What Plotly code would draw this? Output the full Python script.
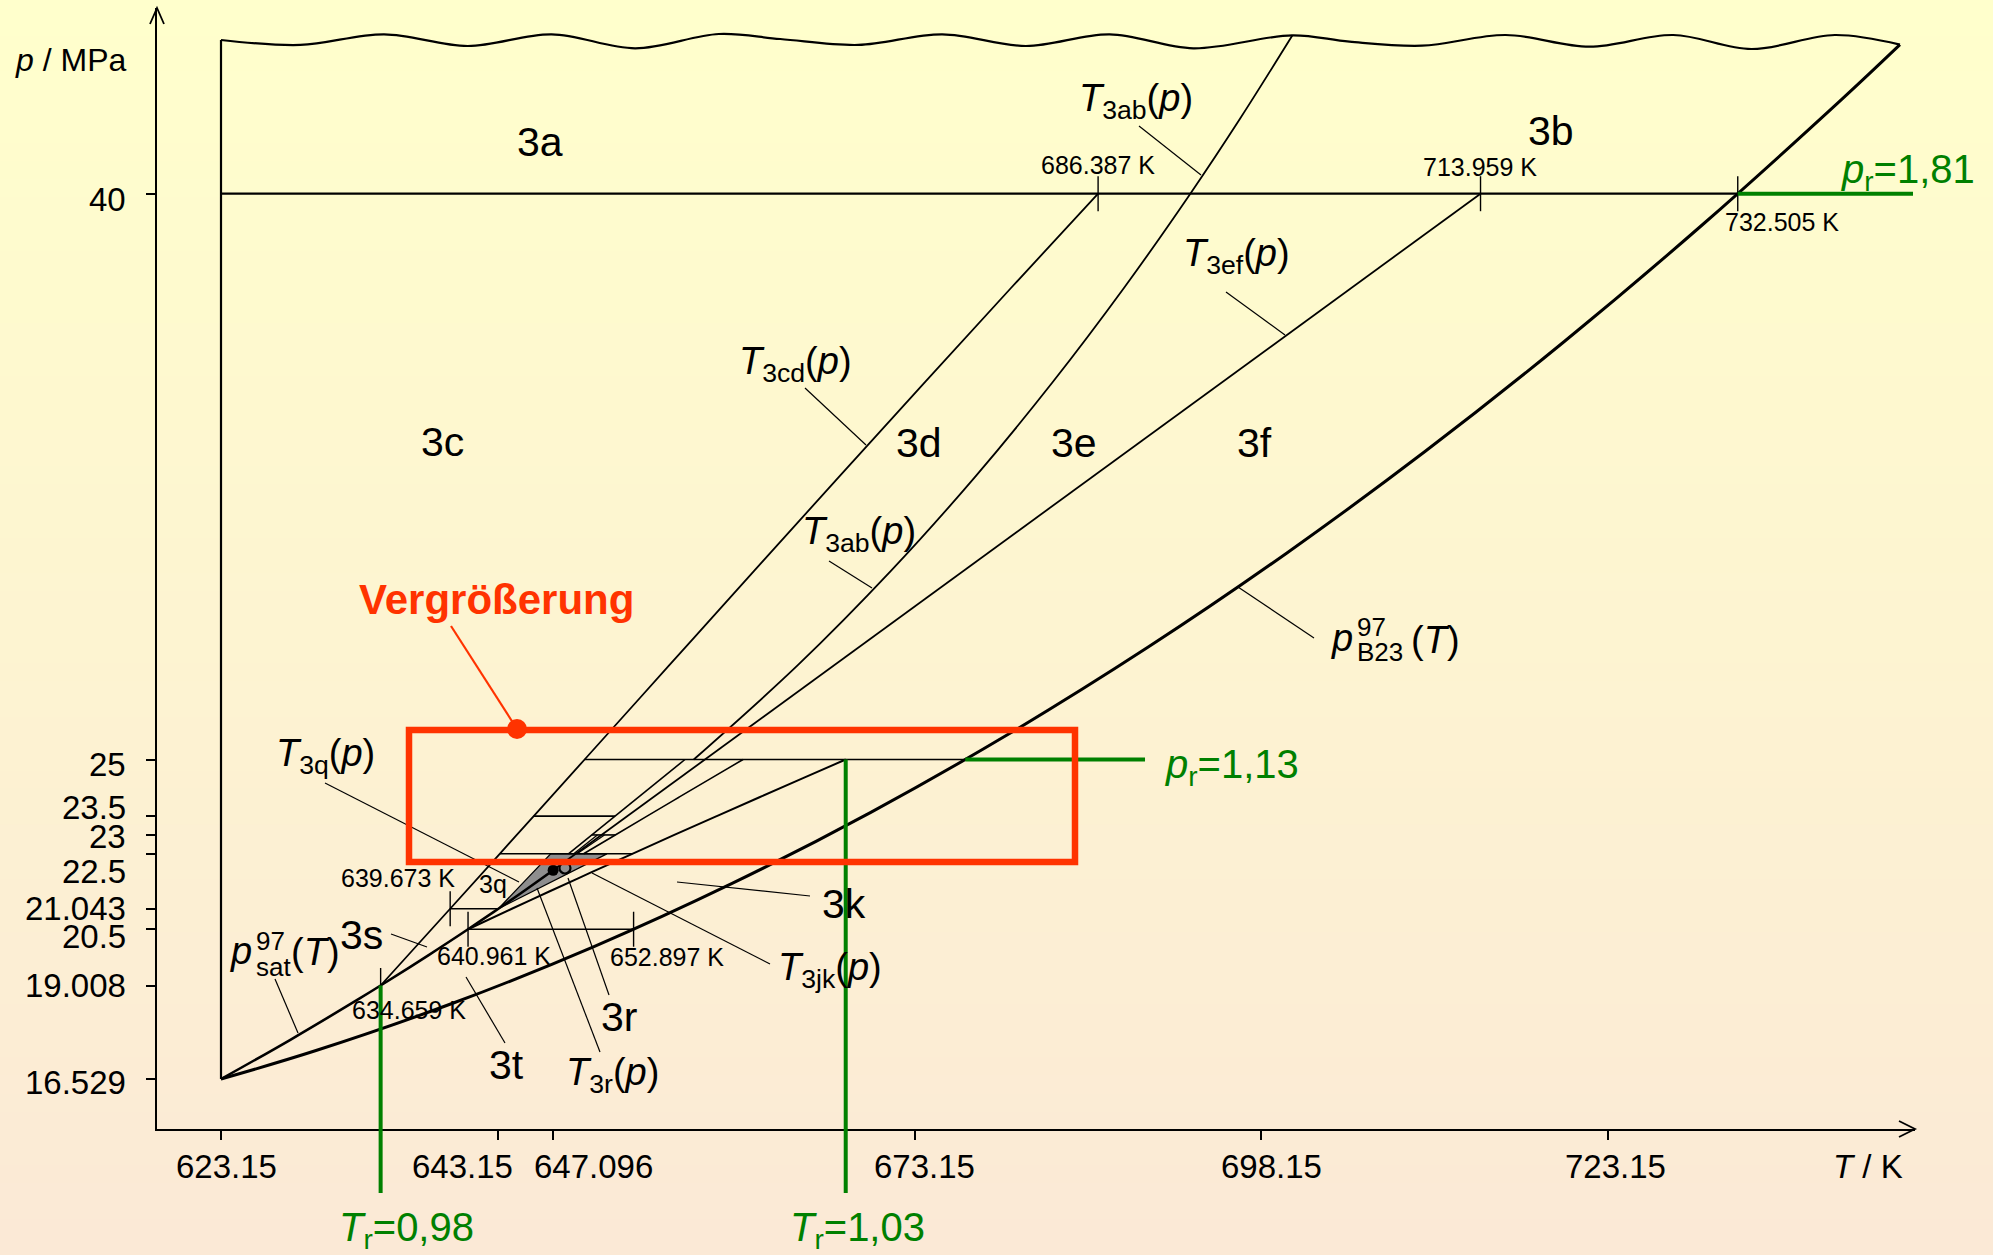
import plotly.graph_objects as go

# ---------------- data (T in K, p in MPa) ----------------
x_tick_vals = [623.15, 643.15, 647.096, 673.15, 698.15, 723.15]
x_tick_text = ["623.15", "643.15", "647.096", "673.15", "698.15", "723.15"]
y_tick_vals = [16.529, 19.008, 20.5, 21.043, 22.5, 23, 23.5, 25, 40]
y_tick_text = ["16.529", "19.008", "20.5", "21.043", "22.5", "23", "23.5", "25", "40"]

sat_T = [623.15, 628.15, 633.15, 634.659, 638.15, 640.961, 643.15, 645.15, 647.096]
sat_p = [16.529, 17.570, 18.666, 19.008, 19.822, 20.5, 21.043, 21.554, 22.064]

b23_T = [623.15, 630, 640, 650, 660, 670, 680, 690, 700, 710, 720, 730, 740, 744.2]
b23_p = [16.529, 17.284, 18.557, 20.034, 21.715, 23.600, 25.688, 27.981, 30.477,
         33.178, 36.082, 39.190, 42.502, 43.953]

top_T = [623.15, 628.87, 634.91, 640.94, 646.99, 653.02, 659.05, 663.47, 669.10, 675.15,
         681.18, 687.22, 693.25, 700.4, 704.51, 709.74, 715.77, 721.82, 727.85, 733.49,
         739.51, 744.2]
top_p = [44.075, 43.943, 44.226, 43.916, 44.226, 43.855, 44.234, 44.101, 43.943, 44.226,
         43.916, 44.226, 43.855, 44.2, 44.030, 43.924, 44.207, 43.897, 44.207, 43.836,
         44.207, 43.953]

left_T = [623.15, 623.15]
left_p = [16.529, 44.075]

t3cd_T = [634.659, 639.671, 643.248, 645.698, 649.366, 655.474, 661.586, 667.72, 673.888, 680.105, 686.387]
t3cd_p = [19.008, 21.043, 22.5, 23.5, 25, 27.5, 30, 32.5, 35, 37.5, 40]
t3ab_T = [657.234, 664.737, 671.449, 677.536, 683.104, 688.25, 693.036, 696.641, 700.4]
t3ab_p = [25, 27.5, 30, 32.5, 35, 37.5, 40, 42, 44.2]
t3ef_T = [647.096, 713.959]
t3ef_p = [22.064, 40]
t3gh_T = [648.2, 649.88, 651.56, 656.6]
t3gh_p = [22.5, 23, 23.5, 25]
t3ij_T = [649.298, 651.578, 653.867, 656.166, 658.473, 660.787]
t3ij_p = [22.5, 23, 23.5, 24, 24.5, 25]
t3jk_T = [640.961, 644.122, 646.816, 649.793, 652.801, 655.833, 658.893, 661.972, 665.073, 668.191]
t3jk_p = [20.5, 21.043, 21.5, 22, 22.5, 23, 23.5, 24, 24.5, 25]
t3mn_T = [648.58, 650.285]
t3mn_p = [22.5, 23]
t3op_T = [648.827, 650.797]
t3op_p = [22.5, 23]
t3qu_T = [643.15, 644.342, 645.636, 646.919]
t3qu_p = [21.043, 21.5, 22, 22.5]
t3rx_T = [643.15, 645.577, 648.263, 650.971]
t3rx_p = [21.043, 21.5, 22, 22.5]

iso_p = [40, 25, 23.5, 23, 22.5, 21.043, 20.5]
iso_T0 = [623.15, 649.366, 645.698, 649.88, 643.248, 639.673, 640.961]
iso_T1 = [732.505, 676.81, 651.56, 651.578, 652.801, 643.15, 652.897]

mark_T = [686.387, 713.959, 732.505, 639.673, 640.961, 652.897, 634.659]
mark_p = [40, 40, 40, 21.043, 20.5, 20.5, 19.008]
mark_text = ["686.387 K", "713.959 K", "732.505 K", "639.673 K", "640.961 K", "652.897 K", "634.659 K"]

crit_T = [647.096]
crit_p = [22.064]
ring_T = [647.95]
ring_p = [22.124]

# reduced-property guide lines
pr_vals = ["1,13", "1,81"]
pr_p = [25, 40]
pr_T0 = [676.81, 732.505]
pr_T1 = [689.77, 745.14]
tr_vals = ["0,98", "1,03"]
tr_T = [634.659, 668.191]
tr_p0 = [19.008, 25]

# ---------------- layout geometry ----------------
W, H = 1993, 1255
ML, MR, MT, MB = 157, 78, 8, 126
X0PX, KX = 221.0, 13.87
Y0PX, KY = 193.7, 37.72


def X(px):
    return 623.15 + (px - X0PX) / KX


def Y(py):
    return 40.0 - (py - Y0PX) / KY


xr = [X(ML), X(W - MR)]
yr = [Y(H - MB), Y(MT)]
PW, PH = W - ML - MR, H - MT - MB


def PX(px):
    return (px - ML) / PW


def PY(py):
    return (H - MB - py) / PH


def tx(T):  # data T -> pixel
    return X0PX + (T - 623.15) * KX


def py_(p):
    return Y0PX + (40 - p) * KY


FONT = "Liberation Sans, Arial, sans-serif"
GREEN = "#008000"
RED = "#FF3300"

fig = go.Figure()


def line(T, p, w=1.8, color="black", shape="linear"):
    fig.add_trace(go.Scatter(x=T, y=p, mode="lines", line=dict(color=color, width=w, shape=shape),
                             hoverinfo="skip", showlegend=False))


# gray near-critical wedge
fig.add_trace(go.Scatter(x=t3qu_T + t3rx_T[::-1], y=t3qu_p + t3rx_p[::-1], mode="lines",
                         fill="toself", fillcolor="#8e8e8e", line=dict(color="black", width=1.3),
                         hoverinfo="skip", showlegend=False))

line(left_T, left_p, 2.2)
line(top_T, top_p, 2.2, shape="spline")
line(b23_T, b23_p, 3.0, shape="spline")
line(sat_T, sat_p, 2.6, shape="spline")
line(t3cd_T, t3cd_p, 1.8, shape="spline")
line(t3ab_T, t3ab_p, 1.8, shape="spline")
line(t3ef_T, t3ef_p, 1.8)
line(t3gh_T, t3gh_p, 1.6)
line(t3ij_T, t3ij_p, 1.6, shape="spline")
line(t3jk_T, t3jk_p, 2.0, shape="spline")
line(t3mn_T, t3mn_p, 1.3)
line(t3op_T, t3op_p, 1.3)
for i, p in enumerate(iso_p):
    line([iso_T0[i], iso_T1[i]], [p, p], 2.2 if i == 0 else 1.6)

# short tick marks on lines
fig.add_trace(go.Scatter(x=mark_T, y=mark_p, mode="markers",
                         marker=dict(symbol="line-ns", size=25, line=dict(color="black", width=1.4)),
                         hoverinfo="skip", showlegend=False))

# green reduced-pressure lines
for i in range(len(pr_p)):
    line([pr_T0[i], pr_T1[i]], [pr_p[i], pr_p[i]], 4.0, color=GREEN)

# critical point
fig.add_trace(go.Scatter(x=crit_T, y=crit_p, mode="markers",
                         marker=dict(color="black", size=11), hoverinfo="skip", showlegend=False))
fig.add_trace(go.Scatter(x=ring_T, y=ring_p, mode="markers",
                         marker=dict(symbol="circle-open", color="black", size=11, line=dict(width=2.2)),
                         hoverinfo="skip", showlegend=False))

shapes = []
# background gradient
top_c = (255, 255, 204)
bot_c = (251, 233, 214)
N = 70
for i in range(N):
    f = (i + 0.5) / N
    c = tuple(round(a + (b - a) * f) for a, b in zip(top_c, bot_c))
    shapes.append(dict(type="rect", xref="paper", yref="paper", x0=PX(-2), x1=PX(W + 2),
                       y0=PY(H * (i + 1) / N + 1), y1=PY(H * i / N - (2 if i == 0 else 0)),
                       fillcolor="rgb(%d,%d,%d)" % c, line=dict(width=0), layer="below"))

# green reduced-temperature lines (extend below the axis)
for i in range(len(tr_T)):
    shapes.append(dict(type="line", xref="paper", yref="paper",
                       x0=PX(tx(tr_T[i])), x1=PX(tx(tr_T[i])),
                       y0=PY(py_(tr_p0[i])), y1=PY(1193),
                       line=dict(color=GREEN, width=4)))

# axis arrowheads
shapes.append(dict(type="path", xref="paper", yref="paper",
                   path="M %f %f L %f %f L %f %f" % (PX(150), PY(24), PX(157), PY(8), PX(164), PY(24)),
                   line=dict(color="black", width=1.8)))
shapes.append(dict(type="path", xref="paper", yref="paper",
                   path="M %f %f L %f %f L %f %f" % (PX(1899), PY(1121), PX(1915), PY(1129), PX(1899), PY(1137)),
                   line=dict(color="black", width=1.8)))

# leader lines (pixel positions)
leaders = [
    (1139, 126, 1201, 175), (805, 388, 866, 445), (1226, 292, 1285, 335), (829, 561, 872, 588),
    (1238, 587, 1314, 638), (325, 783, 519, 882), (275, 979, 298, 1033), (391, 934, 427, 947),
    (466, 977, 505, 1043), (568, 878, 609, 995), (537, 888, 600, 1052), (592, 873, 770, 964),
    (677, 882, 810, 896),
]
for (a, b, c, d) in leaders:
    shapes.append(dict(type="line", xref="paper", yref="paper", x0=PX(a), y0=PY(b), x1=PX(c), y1=PY(d),
                       line=dict(color="black", width=1.2)))

# magnification box
shapes.append(dict(type="rect", xref="paper", yref="paper", x0=PX(409), x1=PX(1075), y0=PY(862), y1=PY(730),
                   line=dict(color=RED, width=6.5)))
shapes.append(dict(type="line", xref="paper", yref="paper", x0=PX(451), y0=PY(626), x1=PX(517), y1=PY(729),
                   line=dict(color=RED, width=2.2)))
shapes.append(dict(type="circle", xref="paper", yref="paper", x0=PX(507), x1=PX(527), y0=PY(739), y1=PY(719),
                   fillcolor=RED, line=dict(color=RED, width=0)))

ann = []


def A(text, px, pyy, size, color="black", xanchor="center", yanchor="middle"):
    ann.append(dict(text=text, x=PX(px), y=PY(pyy), xref="paper", yref="paper", showarrow=False,
                    xanchor=xanchor, yanchor=yanchor, font=dict(family=FONT, size=size, color=color)))


# tick labels
x_label_dx = [5, -36, 40, 10, 10, 7]
for i, v in enumerate(x_tick_vals):
    A(x_tick_text[i], tx(v) + x_label_dx[i], 1166, 33)
y_label_dy = [3, 0, 7, 0, 18, 2, -9, 5, 6]
for i, v in enumerate(y_tick_vals):
    A(y_tick_text[i], 128, py_(v) + y_label_dy[i], 33, xanchor="right")
A("<i>p</i> / MPa", 128, 60, 32, xanchor="right")
A("<i>T</i> / K", 1868, 1166, 33)

# region labels
for t, x, y in [("3a", 540, 142), ("3b", 1551, 131), ("3c", 442, 442), ("3d", 919, 443),
                ("3e", 1074, 443), ("3f", 1254, 443), ("3s", 361, 935), ("3t", 506, 1065),
                ("3r", 619, 1017), ("3k", 844, 904)]:
    A(t, x, y, 41)
A("3q", 493, 884, 25)

# boundary-function labels
for t, x, y in [("<i>T</i><sub>3ab</sub>(<i>p</i>)", 1136, 101), ("<i>T</i><sub>3cd</sub>(<i>p</i>)", 795, 364),
                ("<i>T</i><sub>3ef</sub>(<i>p</i>)", 1236, 256), ("<i>T</i><sub>3ab</sub>(<i>p</i>)", 859, 534),
                ("<i>T</i><sub>3q</sub>(<i>p</i>)", 325, 756), ("<i>T</i><sub>3jk</sub>(<i>p</i>)", 830, 970),
                ("<i>T</i><sub>3r</sub>(<i>p</i>)", 612, 1075)]:
    A(t, x, y, 38)

# p_sat and p_B23 with stacked super/subscripts
A("<i>p</i>", 241, 951, 38)
A("97", 254, 941, 26, xanchor="left")
A("sat", 254, 967, 26, xanchor="left")
A("(<i>T</i>)", 289, 952, 38, xanchor="left")
A("<i>p</i>", 1342, 638, 38)
A("97", 1355, 627, 26, xanchor="left")
A("B23", 1355, 652, 26, xanchor="left")
A("(<i>T</i>)", 1409, 640, 38, xanchor="left")

# value labels
mark_pos = [(1098, 165), (1480, 167), (1782, 222), (398, 878), (494, 956), (667, 957), (409, 1010)]
for i, t in enumerate(mark_text):
    A(t, mark_pos[i][0], mark_pos[i][1], 25)

# reduced property labels
A("<i>p</i><sub>r</sub>=" + pr_vals[0], 1163, 767, 40, color=GREEN, xanchor="left")
A("<i>p</i><sub>r</sub>=" + pr_vals[1], 1839, 172, 40, color=GREEN, xanchor="left")
A("<i>T</i><sub>r</sub>=" + tr_vals[0], 406, 1230, 40, color=GREEN)
A("<i>T</i><sub>r</sub>=" + tr_vals[1], 857, 1230, 40, color=GREEN)

A("<b>Vergrößerung</b>", 496, 600, 42, color=RED)

fig.update_layout(
    width=W, height=H,
    margin=dict(l=ML, r=MR, t=MT, b=MB, pad=0, autoexpand=False),
    paper_bgcolor="rgb(253,244,209)", plot_bgcolor="rgba(0,0,0,0)",
    showlegend=False, shapes=shapes, annotations=ann,
    xaxis=dict(range=xr, showgrid=False, zeroline=False, showline=True, linecolor="black", linewidth=2,
               ticks="outside", ticklen=9, tickwidth=1.5, tickcolor="black", tickvals=x_tick_vals,
               showticklabels=False, fixedrange=True),
    yaxis=dict(range=yr, showgrid=False, zeroline=False, showline=True, linecolor="black", linewidth=2,
               ticks="outside", ticklen=9, tickwidth=1.5, tickcolor="black", tickvals=y_tick_vals,
               showticklabels=False, fixedrange=True),
)

fig.write_html("out.html", config=dict(displayModeBar=False),
               post_script="document.body.style.margin='0px';document.body.style.overflow='hidden';")
